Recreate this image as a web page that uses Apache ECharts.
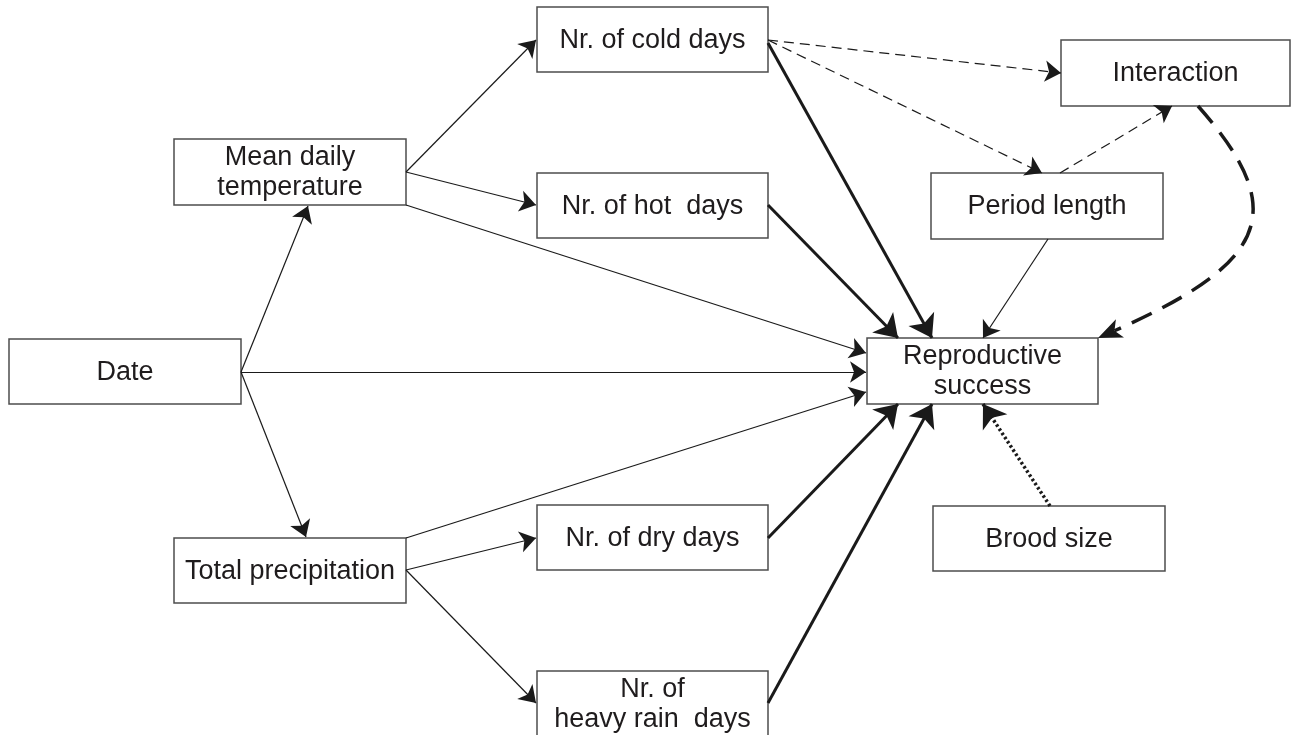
<!DOCTYPE html>
<html>
<head>
<meta charset="utf-8">
<script src="https://cdn.jsdelivr.net/npm/echarts@6/dist/echarts.min.js"></script>
<style>
  html, body { margin: 0; padding: 0; background: #fff; }
  #chart { width: 1292px; height: 735px; }
</style>
</head>
<body>
<div id="chart"></div>
<script>
// boxes of the path diagram (picture pixels, y down)
var boxNames = ['Date', 'Mean daily\ntemperature', 'Total precipitation', 'Nr. of cold days',
  'Nr. of hot  days', 'Nr. of dry days', 'Nr. of\nheavy rain  days', 'Interaction',
  'Period length', 'Reproductive\nsuccess', 'Brood size'];
var boxLeft   = [9,   174, 174, 537, 537, 537, 537, 1061, 931, 867, 933];
var boxTop    = [339, 139, 538, 7,   173, 505, 671, 40,   173, 338, 506];
var boxRight  = [241, 406, 406, 768, 768, 768, 768, 1290, 1163, 1098, 1165];
var boxBottom = [404, 205, 603, 72,  238, 570, 737, 106,  239, 404, 571];

// edges: [x1, y1, x2 (arrow tip), y2]
var thinEdges = [
  [241, 372, 308, 206], [241, 372, 306, 537], [241, 372, 866, 372],
  [406, 172, 536, 40], [406, 172, 536, 205], [406, 205, 866, 353],
  [406, 538, 866, 392], [406, 570, 536, 538], [406, 570, 536, 703],
  [1048, 239, 983, 338]
];
var thickEdges = [
  [768, 43, 932, 338], [768, 205, 898, 338], [768, 538, 898, 404], [768, 703, 932, 404]
];
var dashedEdges = [
  [768, 40, 1061, 73], [768, 40, 1042, 173], [1060, 173, 1172, 106]
];
var dottedEdges = [
  [1050, 506, 983, 404]
];
// Interaction -> Reproductive success, cubic curve: start, cp1, cp2, end
var loopCurve = [[1198, 106], [1290, 210], [1270, 262], [1098, 338]];

var ink = '#1a1a1a';

function lineSeries(edges, width, type, arrow) {
  return {
    type: 'lines',
    coordinateSystem: 'cartesian2d',
    z: 3,
    silent: true,
    symbol: ['none', 'arrow'],
    symbolSize: arrow,
    lineStyle: { color: ink, width: width, type: type, opacity: 1 },
    data: edges.map(function (e) {
      return { coords: [[e[0], e[1]], [e[2], e[3]]] };
    })
  };
}

var boxData = boxNames.map(function (n, i) {
  return [boxLeft[i], boxTop[i], boxRight[i], boxBottom[i]];
});

var myChart = echarts.init(document.getElementById('chart'));
myChart.setOption({
  animation: false,
  backgroundColor: '#fff',
  grid: { left: 0, right: 0, top: 0, bottom: 0 },
  xAxis: { type: 'value', min: 0, max: 1292, show: false },
  yAxis: { type: 'value', min: 0, max: 735, inverse: true, show: false },
  series: [
    {
      type: 'custom',
      z: 1,
      silent: true,
      data: boxData,
      renderItem: function (params, api) {
        var p1 = api.coord([api.value(0), api.value(1)]);
        var p2 = api.coord([api.value(2), api.value(3)]);
        return {
          type: 'group',
          children: [
            {
              type: 'rect',
              shape: { x: p1[0], y: p1[1], width: p2[0] - p1[0], height: p2[1] - p1[1] },
              style: { fill: '#fff', stroke: '#4d4d4d', lineWidth: 1.5 }
            },
            {
              type: 'text',
              style: {
                text: boxNames[params.dataIndex],
                x: (p1[0] + p2[0]) / 2,
                y: (p1[1] + p2[1]) / 2 + 1,
                align: 'center',
                verticalAlign: 'middle',
                fontSize: 27,
                fontFamily: 'Liberation Sans, Arial, sans-serif',
                lineHeight: 30,
                fill: '#1f1c1d'
              }
            }
          ]
        };
      }
    },
    lineSeries(thinEdges, 1.2, 'solid', 16),
    lineSeries(thickEdges, 3, 'solid', 22),
    lineSeries(dashedEdges, 1.2, [10, 6], 16),
    lineSeries(dottedEdges, 3.5, [2.5, 2.5], 22),
    {
      type: 'custom',
      z: 3,
      silent: true,
      data: [loopCurve[0].concat(loopCurve[1], loopCurve[2], loopCurve[3])],
      renderItem: function (params, api) {
        var p = [0, 1, 2, 3].map(function (i) {
          return api.coord([api.value(i * 2), api.value(i * 2 + 1)]);
        });
        var dx = p[3][0] - p[2][0], dy = p[3][1] - p[2][1];
        var len = Math.sqrt(dx * dx + dy * dy);
        var ux = dx / len, uy = dy / len;
        var L = 24, W = 10;
        var bx = p[3][0] - ux * L, by = p[3][1] - uy * L;
        var nx = bx + ux * L * 0.25, ny = by + uy * L * 0.25;
        return {
          type: 'group',
          children: [
            {
              type: 'bezierCurve',
              shape: {
                x1: p[0][0], y1: p[0][1],
                cpx1: p[1][0], cpy1: p[1][1],
                cpx2: p[2][0], cpy2: p[2][1],
                x2: bx + ux * 6, y2: by + uy * 6
              },
              style: { stroke: ink, lineWidth: 3.5, fill: null, lineDash: [22, 12] }
            },
            {
              type: 'polygon',
              shape: {
                points: [
                  [p[3][0], p[3][1]],
                  [bx - uy * W, by + ux * W],
                  [nx, ny],
                  [bx + uy * W, by - ux * W]
                ]
              },
              style: { fill: ink }
            }
          ]
        };
      }
    }
  ]
});
</script>
</body>
</html>
